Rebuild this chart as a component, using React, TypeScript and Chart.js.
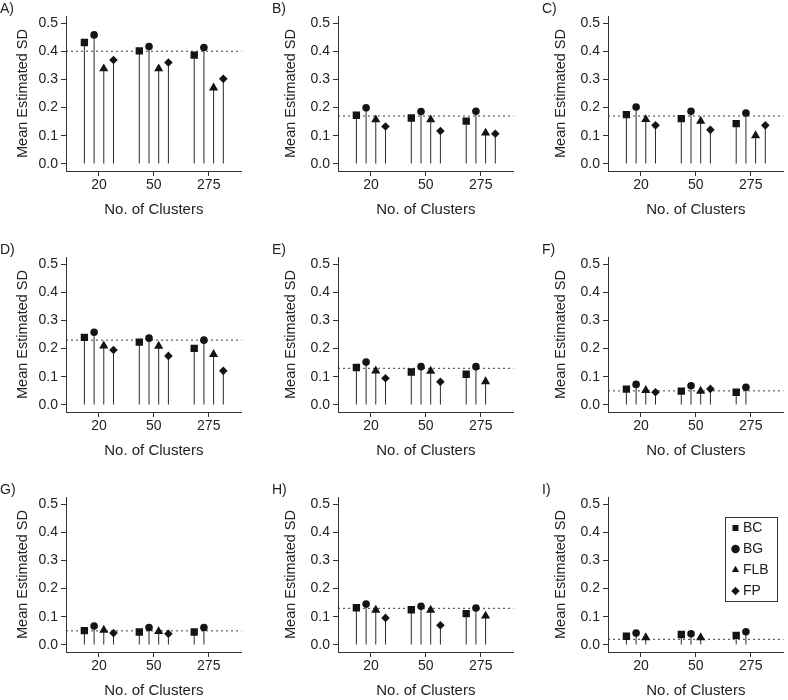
import React, { useEffect, useRef } from 'react';
import { Chart, registerables } from 'chart.js';

Chart.register(...registerables);

// ---------- data ----------
const CLUSTERS = ['20', '50', '275'];
const SERIES_NAMES = ['BC', 'BG', 'FLB', 'FP'];
const Y_TICKS = [0, 0.1, 0.2, 0.3, 0.4, 0.5];
const PANEL_LABELS = ['A)', 'B)', 'C)', 'D)', 'E)', 'F)', 'G)', 'H)', 'I)'];
const REFERENCE_SD = [0.4, 0.17, 0.17, 0.23, 0.13, 0.05, 0.05, 0.13, 0.02];

const A_BC = [0.431, 0.401, 0.386];
const A_BG = [0.458, 0.417, 0.413];
const A_FLB = [0.338, 0.338, 0.27];
const A_FP = [0.369, 0.36, 0.302];

const B_BC = [0.173, 0.163, 0.152];
const B_BG = [0.199, 0.186, 0.187];
const B_FLB = [0.157, 0.157, 0.11];
const B_FP = [0.133, 0.117, 0.107];

const C_BC = [0.175, 0.161, 0.143];
const C_BG = [0.202, 0.187, 0.181];
const C_FLB = [0.158, 0.152, 0.101];
const C_FP = [0.137, 0.121, 0.137];

const D_BC = [0.24, 0.223, 0.201];
const D_BG = [0.258, 0.237, 0.23];
const D_FLB = [0.21, 0.209, 0.18];
const D_FP = [0.195, 0.174, 0.121];

const E_BC = [0.133, 0.117, 0.109];
const E_BG = [0.152, 0.136, 0.136];
const E_FLB = [0.121, 0.12, 0.083];
const E_FP = [0.095, 0.082, null];

const F_BC = [0.056, 0.049, 0.045];
const F_BG = [0.073, 0.068, 0.063];
const F_FLB = [0.052, 0.049, null];
const F_FP = [0.045, 0.057, null];

const G_BC = [0.051, 0.046, 0.046];
const G_BG = [0.067, 0.062, 0.062];
const G_FLB = [0.053, 0.048, null];
const G_FP = [0.042, 0.04, null];

const H_BC = [0.132, 0.125, 0.111];
const H_BG = [0.145, 0.137, 0.131];
const H_FLB = [0.124, 0.124, 0.103];
const H_FP = [0.096, 0.07, null];

const I_BC = [0.031, 0.037, 0.034];
const I_BG = [0.042, 0.04, 0.047];
const I_FLB = [0.026, 0.026, null];
const I_FP = [null, null, null];

const PANEL_SERIES = [
  [A_BC, A_BG, A_FLB, A_FP],
  [B_BC, B_BG, B_FLB, B_FP],
  [C_BC, C_BG, C_FLB, C_FP],
  [D_BC, D_BG, D_FLB, D_FP],
  [E_BC, E_BG, E_FLB, E_FP],
  [F_BC, F_BG, F_FLB, F_FP],
  [G_BC, G_BG, G_FLB, G_FP],
  [H_BC, H_BG, H_FLB, H_FP],
  [I_BC, I_BG, I_FLB, I_FP],
];

// ---------- styling / layout ----------
const DODGE = [-0.265, -0.088, 0.088, 0.265];
const POINT_STYLES = ['rect', 'circle', 'triangle', 'rectRot'];
const POINT_RADII = [5.2, 3.8, 5.3, 4.3];
const X_MIN = 0.4;
const X_MAX = 3.6;
const Y_MIN = -0.025;
const Y_MAX = 0.525;

const COL_LEFT = [0, 272, 542];
const ROW_TOP = [0, 241, 481];
const CANVAS_W = 247;
const CANVAS_H = 226;
const TEXT = '#222222';
const AXIS = '#333333';
const MARK = '#141414';
const STEM = '#2a2a2a';
const LEGEND_X = 186;
const LEGEND_Y = 33;

Chart.defaults.font.family = '"Liberation Sans", Arial, Helvetica, sans-serif';
Chart.defaults.color = TEXT;

const legendPlacer = {
  id: 'legendPlacer',
  beforeDraw(chart: any) {
    const lg = chart.legend;
    if (!lg || !lg.options.display) return;
    lg.left = LEGEND_X;
    lg.top = LEGEND_Y;
    lg.right = chart.width;
    lg.bottom = chart.height;
  },
  afterDraw(chart: any) {
    const lg = chart.legend;
    if (!lg || !lg.options.display) return;
    const ctx = chart.ctx;
    ctx.save();
    ctx.strokeStyle = AXIS;
    ctx.lineWidth = 1;
    ctx.strokeRect(LEGEND_X - 3 + 0.5, LEGEND_Y + 3 + 0.5, 52, 84);
    ctx.restore();
  },
};

function Panel({ idx }: { idx: number }) {
  const ref = useRef<HTMLCanvasElement>(null);
  const col = idx % 3;
  const row = Math.floor(idx / 3);

  useEffect(() => {
    if (!ref.current) return;
    const series = PANEL_SERIES[idx];
    const showLegend = idx === 8;

    const markerSets = series.map((vals, s) => ({
      type: 'scatter',
      label: SERIES_NAMES[s],
      data: vals.map((v, i) => ({ x: i + 1 + DODGE[s], y: v })),
      pointStyle: POINT_STYLES[s],
      pointRadius: POINT_RADII[s],
      pointHoverRadius: POINT_RADII[s],
      backgroundColor: MARK,
      borderColor: MARK,
      borderWidth: 0,
      showLine: false,
    }));

    const stems: { x: number; y: number }[] = [];
    series.forEach((vals, s) =>
      vals.forEach((v, i) => {
        if (v !== null) stems.push({ x: i + 1 + DODGE[s], y: v as number });
      })
    );

    const stemSet = {
      type: 'bar',
      label: 'stems',
      data: stems,
      backgroundColor: STEM,
      borderWidth: 0,
      grouped: false,
      maxBarThickness: 1,
      base: 0,
    };

    const refSet = {
      type: 'line',
      label: 'reference',
      data: [
        { x: X_MIN, y: REFERENCE_SD[idx] },
        { x: X_MAX, y: REFERENCE_SD[idx] },
      ],
      borderColor: '#3a3a3a',
      borderWidth: 1,
      borderDash: [2, 3],
      pointRadius: 0,
      fill: false,
      tension: 0,
    };

    const chart = new Chart(ref.current, {
      type: 'scatter',
      data: { datasets: [...markerSets, stemSet, refSet] as any },
      options: {
        responsive: false,
        animation: false,
        devicePixelRatio: 1,
        events: [],
        layout: { padding: { left: 0, right: 1, top: 0, bottom: 0 } },
        plugins: {
          tooltip: { enabled: false },
          title: {
            display: true,
            text: PANEL_LABELS[idx],
            align: 'start',
            color: TEXT,
            font: { size: 14, weight: 'normal', lineHeight: 1 },
            padding: { top: 2, bottom: 0 },
          },
          legend: {
            display: showLegend,
            position: 'chartArea' as any,
            fullSize: false,
            align: 'start',
            labels: {
              usePointStyle: true,
              boxWidth: 1,
              boxHeight: 6,
              padding: 7,
              color: TEXT,
              font: { size: 14 },
              filter: (item: any) => item.datasetIndex < 4,
            },
          },
        },
        scales: {
          x: {
            type: 'linear',
            min: X_MIN,
            max: X_MAX,
            offset: false,
            afterBuildTicks: (s: any) => {
              s.ticks = CLUSTERS.map((_, i) => ({ value: i + 1 }));
            },
            afterFit: (s: any) => {
              s.height = 55;
            },
            ticks: {
              callback: (v: any) => CLUSTERS[Math.round(Number(v)) - 1],
              color: TEXT,
              font: { size: 14 },
              padding: 1,
              maxRotation: 0,
              autoSkip: false,
            },
            grid: {
              offset: false,
              drawOnChartArea: false,
              drawTicks: true,
              tickLength: 5,
              color: AXIS,
            },
            border: { display: true, color: AXIS, width: 1 },
            title: {
              display: true,
              text: 'No. of Clusters',
              color: TEXT,
              font: { size: 15, lineHeight: 1 },
              padding: { top: 0, bottom: 9 },
            },
          },
          y: {
            type: 'linear',
            min: Y_MIN,
            max: Y_MAX,
            afterBuildTicks: (s: any) => {
              s.ticks = Y_TICKS.map((v) => ({ value: v }));
            },
            afterFit: (s: any) => {
              s.width = 66;
            },
            ticks: {
              callback: (v: any) => Number(v).toFixed(1),
              color: TEXT,
              font: { size: 14 },
              padding: 3,
            },
            grid: { drawOnChartArea: false, drawTicks: true, tickLength: 5, color: AXIS },
            border: { display: true, color: AXIS, width: 1 },
            title: {
              display: true,
              text: 'Mean Estimated SD',
              color: TEXT,
              font: { size: 14.5, lineHeight: 1 },
              padding: { top: col === 0 ? 15.5 : 12, bottom: 0 },
            },
          },
        },
      } as any,
      plugins: [legendPlacer],
    });
    return () => chart.destroy();
  }, [idx]);

  return (
    <canvas
      ref={ref}
      width={CANVAS_W}
      height={CANVAS_H}
      style={{
        position: 'absolute',
        left: COL_LEFT[col],
        top: ROW_TOP[row],
        width: CANVAS_W,
        height: CANVAS_H,
      }}
    />
  );
}

export default function App() {
  return (
    <div
      style={{
        position: 'absolute',
        left: 0,
        top: 0,
        width: 788,
        height: 700,
        overflow: 'hidden',
        background: '#ffffff',
      }}
    >
      {PANEL_LABELS.map((_, i) => (
        <Panel key={i} idx={i} />
      ))}
    </div>
  );
}
